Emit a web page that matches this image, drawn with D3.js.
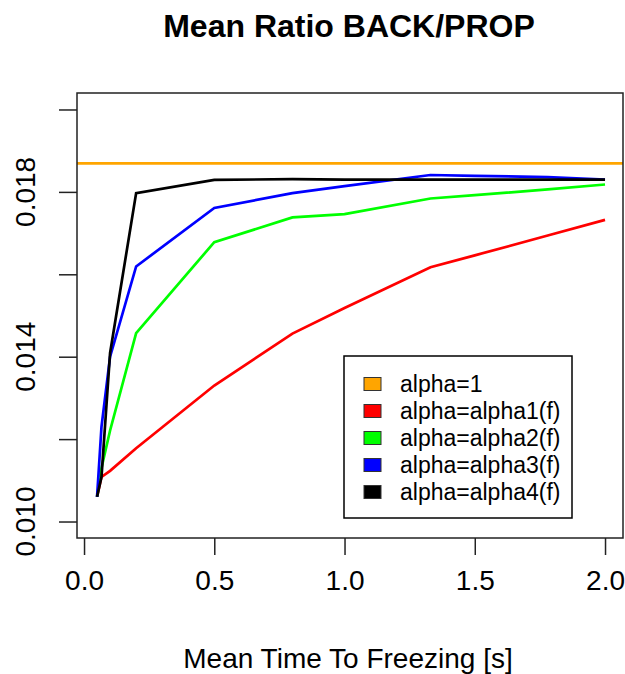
<!DOCTYPE html>
<html>
<head>
<meta charset="utf-8">
<script src="https://cdn.jsdelivr.net/npm/d3@7/dist/d3.min.js"></script>
<style>
  html, body { margin: 0; padding: 0; background: #fff; }
  svg { display: block; font-family: "Liberation Sans", Arial, sans-serif; }
</style>
</head>
<body>
<svg id="chart" width="625" height="674"></svg>
<script>
// Mean time to freezing [s] at which each ratio was evaluated
const freezeTimes = [0.05, 0.067, 0.1, 0.2, 0.5, 0.8, 1.0, 1.33, 1.5, 1.78, 2.0];

// Mean BACK/PROP ratio for each alpha choice
const ratioAlpha1 = [0.0106, 0.01108, 0.01123, 0.01178, 0.01330, 0.01456, 0.01518, 0.01617, 0.01646, 0.01694, 0.01732];
const ratioAlpha2 = [0.0106, 0.01130, 0.01221, 0.01457, 0.01678, 0.01738, 0.01746, 0.01784, 0.01792, 0.01806, 0.01818];
const ratioAlpha3 = [0.0106, 0.01230, 0.01400, 0.01619, 0.01761, 0.01797, 0.01814, 0.01841, 0.01839, 0.01836, 0.01830];
const ratioAlpha4 = [0.0106, 0.01108, 0.01409, 0.01797, 0.01829, 0.01831, 0.01830, 0.01830, 0.01830, 0.01830, 0.01830];

// Constant reference ratio for alpha = 1
const ratioConstant = 0.01869;

const legendLabels = ["alpha=1", "alpha=alpha1(f)", "alpha=alpha2(f)", "alpha=alpha3(f)", "alpha=alpha4(f)"];
const seriesColors = ["#FFA500", "#FF0000", "#00FF00", "#0000FF", "#000000"];

const xTicks = [0, 0.5, 1.0, 1.5, 2.0];
const yTicks = [0.010, 0.012, 0.014, 0.016, 0.018, 0.020];
const yTickLabels = [0.010, 0.014, 0.018];

// Axis limits (data range plus the usual 4% margin)
const xLim = [-0.027, 2.069];
const yLim = [0.0096, 0.0204];

const box = { left: 77, right: 623, top: 93, bottom: 538 };

const svg = d3.select("#chart");

const x = d3.scaleLinear().domain(xLim).range([box.left, box.right]);
const y = d3.scaleLinear().domain(yLim).range([box.bottom, box.top]);

// Title
svg.append("text")
  .attr("x", (box.left + box.right) / 2 - 1)
  .attr("y", 37)
  .attr("text-anchor", "middle")
  .attr("font-size", 32)
  .attr("font-weight", "bold")
  .attr("fill", "#000")
  .text("Mean Ratio BACK/PROP");

// Clip region for the data lines
svg.append("defs").append("clipPath").attr("id", "plotClip")
  .append("rect")
  .attr("x", box.left).attr("y", box.top)
  .attr("width", box.right - box.left).attr("height", box.bottom - box.top);

const plot = svg.append("g").attr("clip-path", "url(#plotClip)");

// Horizontal reference line for alpha = 1
plot.append("line")
  .attr("x1", x(xLim[0])).attr("x2", x(xLim[1]))
  .attr("y1", y(ratioConstant)).attr("y2", y(ratioConstant))
  .attr("stroke", seriesColors[0])
  .attr("stroke-width", 2.7);

const line = d3.line()
  .x((d, i) => x(freezeTimes[i]))
  .y(d => y(d));

[ratioAlpha1, ratioAlpha2, ratioAlpha3, ratioAlpha4].forEach((vals, k) => {
  plot.append("path")
    .datum(vals)
    .attr("d", line)
    .attr("fill", "none")
    .attr("stroke", seriesColors[k + 1])
    .attr("stroke-width", 2.7)
    .attr("stroke-linejoin", "miter")
    .attr("stroke-linecap", "butt");
});

// X axis
const xAxis = svg.append("g")
  .attr("transform", `translate(0,${box.bottom})`)
  .call(d3.axisBottom(x).tickValues(xTicks).tickSize(17).tickPadding(15)
    .tickFormat(d3.format(".1f")));
xAxis.select(".domain").remove();
xAxis.selectAll(".tick line").attr("stroke", "#222").attr("stroke-width", 1.5);
xAxis.selectAll(".tick text")
  .attr("font-size", 28)
  .attr("font-family", "Liberation Sans, Arial, sans-serif")
  .attr("fill", "#000");

// Y axis
const yAxis = svg.append("g")
  .attr("transform", `translate(${box.left},0)`)
  .call(d3.axisLeft(y).tickValues(yTicks).tickSize(18).tickFormat(""));
yAxis.select(".domain").remove();
yAxis.selectAll(".tick line").attr("stroke", "#222").attr("stroke-width", 1.5);

svg.append("g").selectAll("text")
  .data(yTickLabels)
  .join("text")
  .attr("transform", d => `translate(35,${y(d)}) rotate(-90)`)
  .attr("text-anchor", "middle")
  .attr("font-size", 28)
  .attr("fill", "#000")
  .text(d => d3.format(".3f")(d));

// Plot frame
svg.append("rect")
  .attr("x", box.left).attr("y", box.top)
  .attr("width", box.right - box.left).attr("height", box.bottom - box.top)
  .attr("fill", "none")
  .attr("stroke", "#222")
  .attr("stroke-width", 1.5);

// X axis title
svg.append("text")
  .attr("x", (box.left + box.right) / 2 - 2)
  .attr("y", 668)
  .attr("text-anchor", "middle")
  .attr("font-size", 28)
  .attr("fill", "#000")
  .text("Mean Time To Freezing [s]");

// Legend
const legend = svg.append("g");
legend.append("rect")
  .attr("x", 344).attr("y", 356)
  .attr("width", 228).attr("height", 162)
  .attr("fill", "#fff")
  .attr("stroke", "#000")
  .attr("stroke-width", 1.5);

const rows = legend.selectAll("g.row")
  .data(legendLabels)
  .join("g")
  .attr("class", "row")
  .attr("transform", (d, i) => `translate(0,${384 + i * 27})`);

rows.append("rect")
  .attr("x", 364).attr("y", -6.5)
  .attr("width", 17).attr("height", 13)
  .attr("fill", (d, i) => seriesColors[i])
  .attr("stroke", "#333")
  .attr("stroke-width", 1);

rows.append("text")
  .attr("x", 400)
  .attr("y", 0)
  .attr("dy", "0.36em")
  .attr("font-size", 23)
  .attr("fill", "#000")
  .text(d => d);
</script>
</body>
</html>
